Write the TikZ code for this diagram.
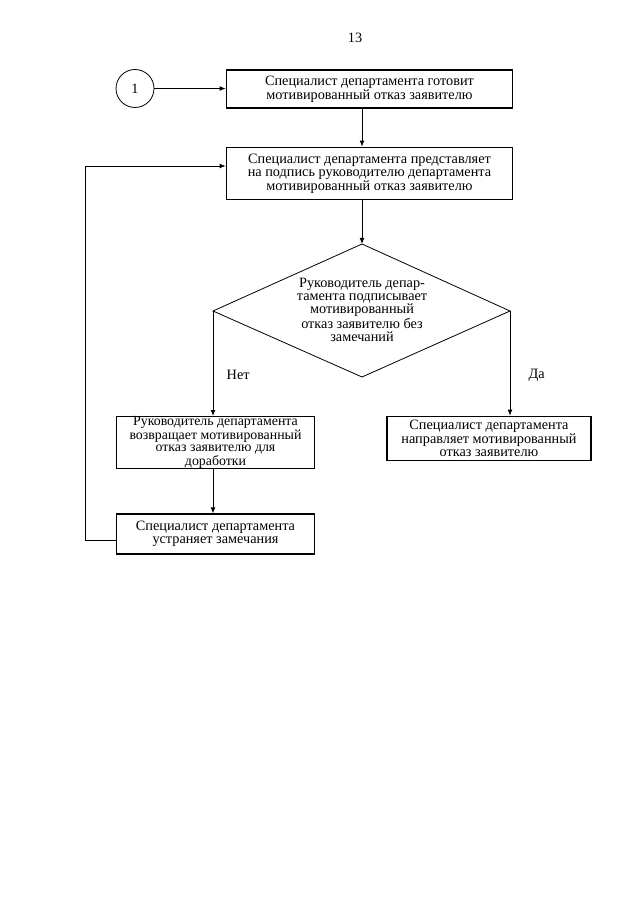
\documentclass[tikz,border=0pt]{standalone}
\usepackage{fontspec}
\setmainfont{Liberation Serif}
\usetikzlibrary{arrows.meta}
\begin{document}
\begin{tikzpicture}[x=0.75pt,y=-0.75pt,
  box/.style={draw,line width=0.8pt,rectangle,inner sep=0pt,align=center,
    font=\fontsize{10.7pt}{9.6pt}\selectfont},
  conn/.style={line width=0.6pt,-{Latex[length=4.5pt,width=3.6pt]}},
  lbl/.style={font=\fontsize{10.7pt}{9.6pt}\selectfont}]
\useasboundingbox[fill=white] (0,0) rectangle (640,905);
\node[lbl] (pg) at (355,38) {13};
\node[draw,circle,line width=0.6pt,minimum size=28.5pt,inner sep=0pt,lbl] (c1) at (135,88.5) {1};
\node[box,minimum width=215pt,minimum height=28.5pt] (b1) at (369.5,89)
  {Специалист департамента готовит\\мотивированный отказ заявителю};
\node[box,minimum width=215pt,minimum height=39.5pt] (b2) at (369.5,173.5)
  {Специалист департамента представляет\\на подпись руководителю департамента\\мотивированный отказ заявителю};
\coordinate (dt) at (362,244);
\coordinate (dl) at (213,311);
\coordinate (dr) at (510,311);
\coordinate (db) at (362,377);
\draw[line width=0.6pt] (dt) -- (dr) -- (db) -- (dl) -- cycle;
\node[align=center,inner sep=0pt,font=\fontsize{10.7pt}{9.8pt}\selectfont] (d) at (362,310)
  {Руководитель депар-\\тамента подписывает\\мотивированный\\отказ заявителю без\\замечаний};
\node[box,minimum width=149pt,minimum height=38.5pt,font=\fontsize{10.4pt}{9.1pt}\selectfont] (b3) at (215.5,442.5)
  {Руководитель департамента\\возвращает мотивированный\\отказ заявителю для\\доработки};
\node[box,minimum width=149pt,minimum height=30pt] (b4) at (215.5,534)
  {Специалист департамента\\устраняет замечания};
\node[box,minimum width=153pt,minimum height=33.5pt] (b5) at (489,438.5)
  {Специалист департамента\\направляет мотивированный\\отказ заявителю};
\node[lbl,anchor=west] (no) at (222,375) {Нет};
\node[lbl,anchor=west] (yes) at (524,375) {Да};
\coordinate (l1) at (85,540);
\coordinate (l2) at (85,166);
\draw[conn] (c1.east) -- (b1.west |- c1.east);
\draw[conn] (b1.south -| dt) -- (b2.north -| dt);
\draw[conn] (b2.south -| dt) -- (dt);
\draw[conn] (dl) -- (dl |- b3.north);
\draw[conn] (dr) -- (dr |- b5.north);
\draw[conn] (b3.south -| dl) -- (b4.north -| dl);
\draw[conn] (b4.west |- l1) -- (l1) -- (l2) -- (l2 -| b2.west);
\end{tikzpicture}
\end{document}
